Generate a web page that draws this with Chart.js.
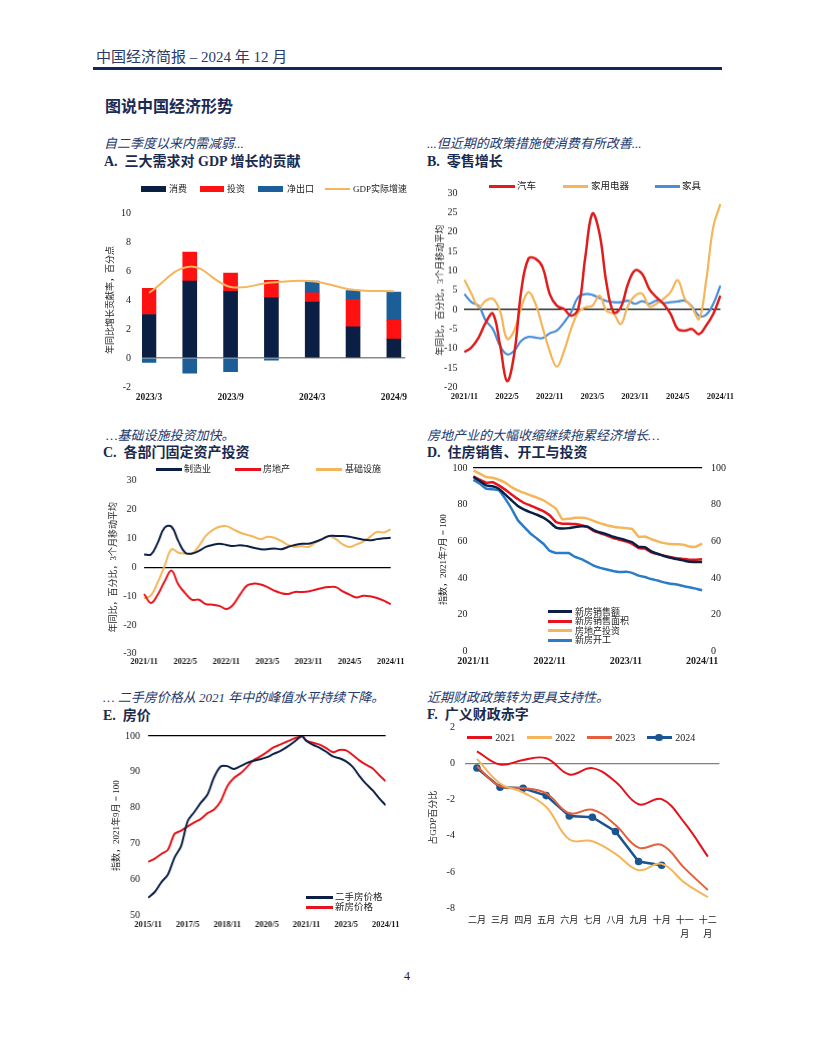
<!DOCTYPE html>
<html lang="zh">
<head>
<meta charset="utf-8">
<title>中国经济简报 – 图说中国经济形势</title>
<script src="https://cdn.jsdelivr.net/npm/chart.js@4.4.1/dist/chart.umd.min.js"></script>
<style>
  html, body { margin: 0; padding: 0; background: #fff; }
  body { width: 816px; height: 1056px; position: relative; overflow: hidden;
         font-family: "Liberation Serif", "Noto Sans CJK SC", serif; }
  .t { position: absolute; white-space: nowrap; line-height: 1; }
  .head { left: 96px; top: 50px; font-size: 15px; color: #2a3a66; }
  .rule { position: absolute; left: 93px; top: 67px; width: 629px; height: 2.5px; background: #14265c; }
  .page { left: 105px; top: 98.5px; font-size: 16px; font-weight: bold; color: #1b2a55; }
  .sub { font-size: 13px; font-style: italic; color: #22386e; }
  .ttl { font-size: 14px; font-weight: bold; color: #1b2a4f; }
  .box { position: absolute; }
  .mk { position: absolute; }
  .lg { position: absolute; white-space: nowrap; line-height: 1; color: #1a1a1a; }
</style>
</head>
<body>

<div class="t head">中国经济简报 – 2024 年 12 月</div>
<div class="rule"></div>
<div class="t page">图说中国经济形势</div>

<div class="t sub" style="left:104px;top:137px">自二季度以来内需减弱...</div>
<div class="t ttl" style="left:104px;top:154.5px">A.&nbsp; 三大需求对 GDP 增长的贡献</div>
<div class="t sub" style="left:427px;top:137px">...但近期的政策措施使消费有所改善...</div>
<div class="t ttl" style="left:427px;top:154.5px">B.&nbsp; 零售增长</div>

<div class="t sub" style="left:106px;top:429px">…基础设施投资加快。</div>
<div class="t ttl" style="left:103px;top:445.5px">C.&nbsp; 各部门固定资产投资</div>
<div class="t sub" style="left:427px;top:429px">房地产业的大幅收缩继续拖累经济增长…</div>
<div class="t ttl" style="left:427px;top:445.5px">D.&nbsp; 住房销售、开工与投资</div>

<div class="t sub" style="left:103px;top:691px">… 二手房价格从 2021 年中的峰值水平持续下降。</div>
<div class="t ttl" style="left:103px;top:708.5px">E.&nbsp; 房价</div>
<div class="t sub" style="left:427px;top:691px">近期财政政策转为更具支持性。</div>
<div class="t ttl" style="left:427px;top:707.5px">F.&nbsp; 广义财政赤字</div>

<div class="box" id="chartA"><canvas></canvas></div>
<div class="box" id="chartB"><canvas></canvas></div>
<div class="box" id="chartC"><canvas></canvas></div>
<div class="box" id="chartD"><canvas></canvas></div>
<div class="box" id="chartE"><canvas></canvas></div>
<div class="box" id="chartF"><canvas></canvas></div>

<div class="t" style="left:404px;top:970px;font-size:12px;color:#222">4</div>

<script>
// ---------- data ----------
// A. contributions to GDP growth (quarterly)
const aLabels = ["2023/3", "2023/6", "2023/9", "2023/12", "2024/3", "2024/6", "2024/9"];
const aTickIdx = [0, 2, 4, 6];
const aConsumption = [3.0, 5.3, 4.6, 4.15, 3.85, 2.15, 1.3];
const aInvestment = [1.8, 2.0, 1.25, 1.2, 0.65, 1.9, 1.3];
const aNetExports = [-0.3, -1.05, -0.95, -0.15, 0.8, 0.6, 1.95];
const aGdp = [4.5, 6.3, 4.9, 5.2, 5.3, 4.7, 4.6];

// B. retail sales, 2021/11 - 2024/11
const bTicks = ["2021/11", "2022/5", "2022/11", "2023/5", "2023/11", "2024/5", "2024/11"];
const bCars = [-10.9, -9.7, -7.2, -3.3, -1.0, -9.0, -18.4, -11.5, 4.9, 13.1,
  13.1, 10.9, 4.0, 1.0, 0.2, -1.55, 0.2, 13.5, 24.7, 19.6,
  6.6, -0.7, 0.6, 6.6, 10.1, 9.2, 5.3, 3.2, 1.5, -1.1,
  -5.0, -5.4, -5.0, -6.3, -4.1, -1.1, 3.6];
const bAppliances = [7.7, 4.1, 0.6, 2.3, 2.8, -0.3, -7.5, -5.4, 0.6, 4.5,
  1.5, -4.6, -10.7, -14.7, -10.7, -5.0, -0.7, 0.6, 1.0, 3.6,
  -0.3, -1.1, -3.7, 1.0, 3.6, 4.1, 0.8, 1.5, 2.8, 4.5,
  7.6, 2.8, 0.6, -2.4, 7.5, 21.3, 27.2];
const bFurniture = [4.0, 1.9, 1.0, -2.8, -5.0, -9.3, -11.5, -10.6, -8.0, -7.0,
  -7.2, -7.3, -6.1, -5.4, -3.3, -0.7, 3.2, 4.0, 3.8, 3.0,
  2.2, 1.9, 1.9, 2.3, 1.5, 2.2, 1.5, 2.3, 1.7, 1.9,
  2.1, 2.3, 0.8, -1.55, -1.3, 1.5, 6.2];

// C. fixed asset investment, 2021/11 - 2024/11
const cManufacturing = [4.4, 4.4, 8.5, 13.7, 14.0, 9.0, 5.0, 4.7, 5.6, 7.0,
  7.7, 8.1, 7.7, 7.3, 7.6, 7.3, 6.7, 6.2, 6.2, 6.5,
  6.2, 7.0, 7.7, 8.1, 8.1, 8.8, 9.7, 10.8, 10.8, 10.8,
  10.5, 10.0, 9.5, 9.3, 9.7, 10.0, 10.2];
const cRealEstate = [-9.3, -12.4, -9.5, -4.9, -1.2, -6.0, -9.0, -11.3, -11.3, -12.8,
  -13.0, -13.4, -14.5, -13.0, -9.5, -6.4, -5.7, -6.0, -6.9, -8.1,
  -9.0, -9.3, -8.6, -8.6, -8.4, -7.8, -7.2, -6.9, -6.9, -8.4,
  -9.5, -10.5, -9.9, -10.1, -10.7, -11.6, -12.8];
const cInfrastructure = [-10.8, -9.8, -5.2, 0.5, 6.2, 5.0, 4.7, 4.7, 7.3, 10.8,
  12.8, 14.0, 14.2, 13.1, 12.0, 11.2, 10.5, 9.7, 10.5, 10.2,
  9.1, 7.7, 7.0, 7.3, 7.0, 8.5, 9.7, 10.8, 9.7, 7.9,
  7.0, 7.9, 8.8, 10.5, 12.2, 12.0, 13.1];

// D. housing indices (2021/7 = 100), 2021/11 - 2024/11
const dTicks = ["2021/11", "2022/11", "2023/11", "2024/11"];
const dSalesValue = [95.1, 92.9, 90.5, 90.0, 88.7, 85.6, 82.4, 79.3, 77.3, 75.8,
  74.5, 72.9, 70.5, 67.5, 67.0, 67.2, 67.8, 68.2, 68.0, 66.0,
  64.8, 63.8, 62.5, 61.6, 60.6, 59.5, 57.0, 56.8, 54.5, 53.2,
  52.0, 51.0, 50.3, 49.6, 48.8, 48.7, 48.7];
const dSalesArea = [95.5, 93.6, 92.0, 92.2, 90.5, 88.2, 85.6, 83.1, 80.9, 79.5,
  78.0, 76.5, 74.2, 70.5, 69.6, 69.6, 69.4, 68.8, 67.8, 65.5,
  64.3, 63.2, 61.8, 60.9, 60.0, 58.6, 56.3, 56.0, 54.0, 53.0,
  52.2, 51.4, 50.8, 50.4, 50.0, 50.0, 50.2];
const dInvestment = [98.7, 96.9, 95.1, 94.7, 93.6, 92.0, 89.6, 87.8, 86.4, 85.1,
  83.8, 82.4, 80.2, 77.8, 72.0, 72.3, 72.8, 72.9, 72.4, 71.0,
  69.8, 68.8, 68.0, 67.5, 67.2, 66.8, 62.5, 62.6, 61.2, 60.0,
  59.0, 58.5, 58.4, 58.2, 57.2, 57.0, 58.7];
const dStarts = [93.6, 91.5, 88.7, 88.4, 87.8, 83.3, 77.8, 71.5, 67.8, 64.2,
  61.5, 58.7, 54.8, 53.6, 53.6, 53.6, 51.5, 50.3, 48.5, 46.6,
  45.5, 44.6, 43.8, 43.2, 43.4, 42.8, 41.3, 40.5, 39.4, 38.6,
  37.6, 36.9, 36.4, 35.6, 34.9, 34.2, 33.3];

// E. house prices (2021/9 = 100), month index from 2015/11
const eTickMonths = [0, 18, 36, 54, 72, 90, 108];
const eTickLabels = ["2015/11", "2017/5", "2018/11", "2020/5", "2021/11", "2023/5", "2024/11"];
const eMonths = [0, 3, 6, 9, 12, 15, 18, 21, 24, 27, 30, 33, 36, 39, 42, 45, 48, 51, 54,
  57, 60, 63, 66, 69, 70, 72, 75, 78, 81, 84, 87, 90, 93, 96, 99, 102, 105, 108];
const eSecondHand = [54.9, 56.5, 59.2, 61.4, 66.1, 69.3, 76.3, 78.8, 81.4, 83.7, 88.5, 91.5, 91.6,
  90.8, 91.6, 92.5, 93.1, 93.5, 94.1, 95.0, 95.8, 96.9, 98.2, 99.7, 100, 98.6,
  97.5, 96.7, 95.6, 94.3, 93.8, 92.9, 91.4, 88.9, 86.7, 84.9, 82.7, 80.7];
const eNewHome = [64.9, 65.8, 67.1, 68.3, 72.7, 73.6, 74.8, 75.9, 76.9, 78.5, 79.5, 81.8, 86.0,
  88.3, 89.6, 91.4, 93.3, 94.3, 95.5, 96.8, 97.6, 98.4, 99.2, 99.9, 100, 98.7,
  98.1, 97.6, 96.6, 95.5, 96.1, 96.0, 94.7, 93.2, 92.0, 91.0, 89.1, 87.4];

// F. augmented fiscal deficit, % of GDP (cumulative)
const fMonths = ["二月", "三月", "四月", "五月", "六月", "七月", "八月", "九月", "十月", ["十一", "月"], ["十二", "月"]];
const f2021 = [0.68, -0.05, 0.2, 0.3, -0.6, -0.25, -1.0, -2.25, -1.97, -3.3, -5.15];
const f2022 = [0.26, -1.1, -1.6, -2.4, -4.2, -4.3, -5.0, -5.9, -5.55, -6.6, -7.4];
const f2023 = [-0.15, -1.25, -1.35, -1.65, -2.75, -2.55, -3.4, -4.65, -4.5, -5.8, -7.0];
const f2024 = [-0.24, -1.31, -1.37, -1.77, -2.9, -2.97, -3.76, -5.42, -5.63, null, null];

// ---------- helpers ----------
const serif = '"Liberation Serif", "Noto Sans CJK SC", serif';
Chart.defaults.font.family = serif;
Chart.defaults.color = "#1a1a1a";
Chart.defaults.animation = false;
Chart.defaults.plugins.legend.display = false;
Chart.defaults.plugins.tooltip.enabled = false;
Chart.defaults.elements.point.radius = 0;

const NAVY = "#0b1f45", RED = "#e8131b", ORANGE = "#f5b55a", BLUE = "#1b5e98";

function monthLabels(year, month, n) {
  const out = [];
  for (let i = 0; i < n; i++) {
    out.push(year + "/" + month);
    month++;
    if (month > 12) { month = 1; year++; }
  }
  return out;
}
const months37 = monthLabels(2021, 11, 37);

// only draw a grid line at one value (zero line / 100 line)
function oneLine(value, color, width) {
  return {
    drawTicks: false,
    lineWidth: width || 1,
    color: (c) => (c.tick && c.tick.value === value ? color : "rgba(0,0,0,0)")
  };
}

function yTitle(text) {
  return { display: true, text: text, font: { size: 9 }, padding: 0, color: "#1a1a1a" };
}

// put a chart so its plot area lands on l/t/r/b
// padT has to cover half a tick label plus the tick padding, or chart.js pushes the plot down
function place(id, g, config) {
  const box = document.getElementById(id);
  const left = g.l - g.yW;
  const top = g.t - g.padT;
  const right = g.r + g.padR + (g.y2W || 0);
  const bottom = g.b + g.xH;
  box.style.left = left + "px";
  box.style.top = top + "px";
  box.style.width = (right - left) + "px";
  box.style.height = (bottom - top) + "px";
  config.options.responsive = true;
  config.options.maintainAspectRatio = false;
  config.options.layout = { padding: { top: g.padT, right: g.padR, left: 0, bottom: 0 } };
  const s = config.options.scales;
  s.x.afterFit = (sc) => { sc.height = g.xH; };
  s.y.afterFit = (sc) => { sc.width = g.yW; };
  if (s.y2) s.y2.afterFit = (sc) => { sc.width = g.y2W; };
  return new Chart(box.querySelector("canvas"), config);
}

// legend pieces
function mark(x, y, w, h, color) {
  const d = document.createElement("div");
  d.className = "mk";
  d.style.cssText = `left:${x}px;top:${y - h / 2}px;width:${w}px;height:${h}px;background:${color}`;
  document.body.appendChild(d);
}
function dot(x, y, r, color) {
  const d = document.createElement("div");
  d.className = "mk";
  d.style.cssText = `left:${x - r}px;top:${y - r}px;width:${2 * r}px;height:${2 * r}px;border-radius:50%;background:${color}`;
  document.body.appendChild(d);
}
function label(x, y, text, size) {
  const d = document.createElement("div");
  d.className = "lg";
  d.style.left = x + "px";
  d.style.top = (y - 0.46 * size) + "px";
  d.style.fontSize = size + "px";
  d.textContent = text;
  document.body.appendChild(d);
}

const xBold = { size: 9.5, weight: "bold" };
const yFont = { size: 10 };

// ---------- A ----------
const pts = (arr) => arr.map((v, i) => ({ x: i, y: v }));
const chartA = place("chartA",
  { l: 141.7, t: 212.7, r: 405, b: 386.7, yW: 37, xH: 20, padT: 18, padR: 9 },
  {
    type: "bar",
    data: {
      datasets: [
        { label: "消费", data: pts(aConsumption), backgroundColor: NAVY, stack: "bars", barThickness: 14, order: 1 },
        { label: "投资", data: pts(aInvestment), backgroundColor: "#ff1111", stack: "bars", barThickness: 14, order: 1 },
        { label: "净出口", data: pts(aNetExports), backgroundColor: BLUE, stack: "bars", barThickness: 14, order: 1 },
        { type: "line", label: "GDP实际增速", data: pts(aGdp), borderColor: ORANGE, borderWidth: 2,
          tension: 0.4, stack: "gdp", order: 0 }
      ]
    },
    options: {
      scales: {
        x: {
          type: "linear", min: -0.17, max: 6.28, offset: false, stacked: true,
          grid: { display: false, drawTicks: false }, border: { display: false },
          afterBuildTicks: (sc) => { sc.ticks = aTickIdx.map((v) => ({ value: v })); },
          ticks: { font: xBold, padding: 5, maxRotation: 0, callback: (v) => aLabels[v] }
        },
        y: {
          min: -2, max: 10, stacked: true,
          ticks: { stepSize: 2, font: yFont, padding: 11 },
          grid: oneLine(0, "#8a8a8a", 1.5), border: { display: false },
          title: yTitle("年同比增长贡献率，百分点")
        }
      }
    }
  });
{
  const ds = chartA.data.datasets;
  mark(141, 189, 25, 5.5, ds[0].backgroundColor); label(169, 189, ds[0].label, 9);
  mark(200, 189, 24, 5.5, ds[1].backgroundColor); label(227, 189, ds[1].label, 9);
  mark(258, 189, 25, 5.5, ds[2].backgroundColor); label(287, 189, ds[2].label, 9);
  mark(325, 189, 25, 2.5, ds[3].borderColor); label(353, 189, ds[3].label, 9);
}

// ---------- B ----------
function everyTick(list) {
  return function (v) {
    const lab = this.getLabelForValue(v);
    return list.includes(lab) ? lab : "";
  };
}
const chartB = place("chartB",
  { l: 464, t: 193.3, r: 720, b: 386.7, yW: 29.4, xH: 18, padT: 14, padR: 19 },
  {
    type: "line",
    data: {
      labels: months37,
      datasets: [
        { label: "汽车", data: bCars, borderColor: "#e01c1c", borderWidth: 2.5, tension: 0.4 },
        { label: "家用电器", data: bAppliances, borderColor: ORANGE, borderWidth: 2.2, tension: 0.4 },
        { label: "家具", data: bFurniture, borderColor: "#4a8fd8", borderWidth: 2.2, tension: 0.4 }
      ]
    },
    options: {
      scales: {
        x: {
          grid: { display: false, drawTicks: false }, border: { display: false },
          ticks: { font: { size: 8.5, weight: "bold" }, padding: 4, autoSkip: false, maxRotation: 0,
                   callback: everyTick(bTicks) }
        },
        y: {
          min: -20, max: 30,
          ticks: { stepSize: 5, font: yFont, padding: 7 },
          grid: oneLine(0, "#000", 1.2), border: { display: false },
          title: yTitle("年同比，百分比，3个月移动平均")
        }
      }
    }
  });
{
  const ds = chartB.data.datasets;
  mark(489, 186, 26, 3, ds[0].borderColor); label(517, 186, ds[0].label, 9.5);
  mark(563, 186, 25, 3, ds[1].borderColor); label(591, 186, ds[1].label, 9.5);
  mark(655, 186, 25, 3, ds[2].borderColor); label(682, 186, ds[2].label, 9.5);
}

// ---------- C ----------
const chartC = place("chartC",
  { l: 144.3, t: 480, r: 390, b: 653.3, yW: 36, xH: 16, padT: 14.5, padR: 19 },
  {
    type: "line",
    data: {
      labels: months37,
      datasets: [
        { label: "制造业", data: cManufacturing, borderColor: NAVY, borderWidth: 2, tension: 0.4 },
        { label: "房地产", data: cRealEstate, borderColor: RED, borderWidth: 2, tension: 0.4 },
        { label: "基础设施", data: cInfrastructure, borderColor: ORANGE, borderWidth: 2, tension: 0.4 }
      ]
    },
    options: {
      scales: {
        x: {
          grid: { display: false, drawTicks: false }, border: { display: false },
          ticks: { font: { size: 8.5, weight: "bold" }, padding: 3, autoSkip: false, maxRotation: 0,
                   callback: everyTick(bTicks) }
        },
        y: {
          min: -30, max: 30,
          ticks: { stepSize: 10, font: yFont, padding: 7.5 },
          grid: oneLine(0, "#000", 1.2), border: { display: false },
          title: yTitle("年同比，百分比，3个月移动平均")
        }
      }
    }
  });
{
  const ds = chartC.data.datasets;
  mark(156, 469, 26, 3, ds[0].borderColor); label(184, 469, ds[0].label, 9);
  mark(235, 469, 26, 3, ds[1].borderColor); label(263, 469, ds[1].label, 9);
  mark(316, 469, 26, 3, ds[2].borderColor); label(345, 469, ds[2].label, 9);
}

// ---------- D ----------
const chartD = place("chartD",
  { l: 473, t: 467.7, r: 701.7, b: 651, yW: 35.4, xH: 18, padT: 16, padR: 0, y2W: 30 },
  {
    type: "line",
    data: {
      labels: months37,
      datasets: [
        { label: "新房销售额", data: dSalesValue, borderColor: NAVY, borderWidth: 2.5, tension: 0.1 },
        { label: "新房销售面积", data: dSalesArea, borderColor: RED, borderWidth: 2.5, tension: 0.1 },
        { label: "房地产投资", data: dInvestment, borderColor: ORANGE, borderWidth: 2.5, tension: 0.1 },
        { label: "新房开工", data: dStarts, borderColor: "#2a7bc8", borderWidth: 2.5, tension: 0.1 }
      ]
    },
    options: {
      scales: {
        x: {
          grid: { display: false, drawTicks: false }, border: { display: false },
          ticks: { font: { size: 10, weight: "bold" }, padding: 4.5, autoSkip: false, maxRotation: 0,
                   callback: everyTick(dTicks) }
        },
        y: {
          min: 0, max: 100,
          ticks: { stepSize: 20, font: yFont, padding: 6 },
          grid: oneLine(100, "#000", 1.2), border: { display: false },
          title: yTitle("指数，2021年7月 = 100")
        },
        y2: {
          position: "right", min: 0, max: 100,
          ticks: { stepSize: 20, font: yFont, padding: 9 },
          grid: { display: false, drawTicks: false }, border: { display: false }
        }
      }
    }
  });
{
  const ds = chartD.data.datasets;
  const rows = [611.7, 621.2, 630.8, 640.5];
  ds.forEach((d, i) => { mark(548, rows[i], 24, 2.8, d.borderColor); label(575, rows[i], d.label, 9); });
}

// ---------- E ----------
const xy = (xs, ys) => xs.map((x, i) => ({ x: x, y: ys[i] }));
const chartE = place("chartE",
  { l: 148.3, t: 735.7, r: 385, b: 915, yW: 37, xH: 16, padT: 15, padR: 20 },
  {
    type: "line",
    data: {
      datasets: [
        { label: "二手房价格", data: xy(eMonths, eSecondHand), borderColor: NAVY, borderWidth: 2, tension: 0.3 },
        { label: "新房价格", data: xy(eMonths, eNewHome), borderColor: RED, borderWidth: 2, tension: 0.3 }
      ]
    },
    options: {
      scales: {
        x: {
          type: "linear", min: 0, max: 108,
          grid: { display: false, drawTicks: false }, border: { display: false },
          afterBuildTicks: (sc) => { sc.ticks = eTickMonths.map((v) => ({ value: v })); },
          ticks: { font: { size: 8.5, weight: "bold" }, padding: 4.5, maxRotation: 0,
                   callback: (v) => eTickLabels[eTickMonths.indexOf(v)] }
        },
        y: {
          min: 50, max: 100,
          ticks: { stepSize: 10, font: yFont, padding: 8 },
          grid: oneLine(100, "#000", 1.2), border: { display: false },
          title: yTitle("指数，2021年9月 = 100")
        }
      }
    }
  });
{
  const ds = chartE.data.datasets;
  mark(305.7, 897.3, 27.5, 2.8, ds[0].borderColor); label(335, 897.3, ds[0].label, 9.5);
  mark(305.7, 907.7, 27.5, 2.8, ds[1].borderColor); label(335, 907.7, ds[1].label, 9.5);
}

// ---------- F ----------
const chartF = place("chartF",
  { l: 465, t: 727.7, r: 719, b: 908.3, yW: 37.4, xH: 30, padT: 17.5, padR: 4 },
  {
    type: "line",
    data: {
      labels: fMonths,
      datasets: [
        { label: "2021", data: f2021, borderColor: "#e3121b", borderWidth: 2, tension: 0.4 },
        { label: "2022", data: f2022, borderColor: ORANGE, borderWidth: 2, tension: 0.4 },
        { label: "2023", data: f2023, borderColor: "#e4603c", borderWidth: 2, tension: 0.4 },
        { label: "2024", data: f2024, borderColor: "#1a5591", borderWidth: 2.5, tension: 0,
          pointRadius: 3.8, pointBackgroundColor: "#1a5591", pointBorderWidth: 0 }
      ]
    },
    options: {
      scales: {
        x: {
          offset: true,
          grid: { display: false, drawTicks: false }, border: { display: false },
          ticks: { font: { size: 9, lineHeight: 1.55 }, padding: 6, autoSkip: false, maxRotation: 0 }
        },
        y: {
          min: -8, max: 2,
          ticks: { stepSize: 2, font: yFont, padding: 10.5 },
          grid: oneLine(0, "#808080", 1.3), border: { display: false },
          title: yTitle("占GDP百分比")
        }
      }
    }
  });
{
  const ds = chartF.data.datasets;
  const xs = [466.7, 526.7, 586.7, 646.7];
  ds.forEach((d, i) => {
    mark(xs[i], 737.3, 25, 2.5, d.borderColor);
    label(xs[i] + 28.5, 737.3, d.label, 10);
  });
  dot(659.2, 737.3, 3.8, ds[3].borderColor);
}
</script>
</body>
</html>
